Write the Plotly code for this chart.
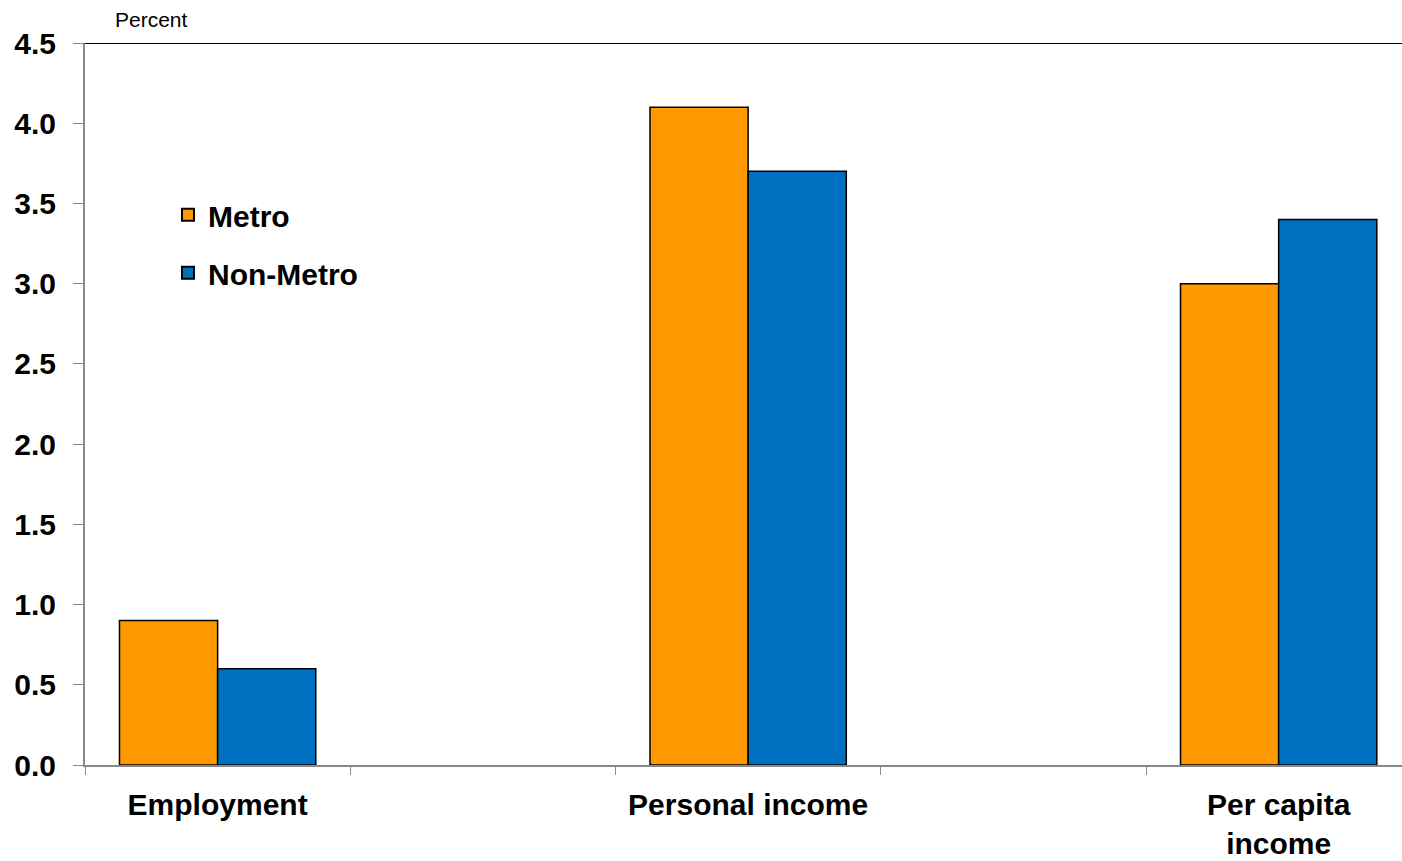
import plotly.graph_objects as go

categories = ["Employment", " ", "Personal income", "  ", "Per capita income"]
tick_labels = ["Employment", "", "Personal income", "", "Per capita<br>income"]
metro = [0.9, None, 4.1, None, 3.0]
non_metro = [0.6, None, 3.7, None, 3.4]
y_ticks = [0.0, 0.5, 1.0, 1.5, 2.0, 2.5, 3.0, 3.5, 4.0, 4.5]

FONT = "Liberation Sans, Arial, sans-serif"

fig = go.Figure()
fig.add_trace(go.Bar(x=categories, y=metro, name="Metro", legendgroup="a",
                     marker=dict(color="#FF9900", line=dict(color="#000000", width=1.5))))
fig.add_trace(go.Bar(x=categories, y=non_metro, name="Non-Metro", legendgroup="b",
                     marker=dict(color="#0070C0", line=dict(color="#000000", width=1.5))))

fig.update_layout(
    width=1402, height=861,
    margin=dict(l=85, r=0, t=43, b=96, autoexpand=False),
    plot_bgcolor="white", paper_bgcolor="white",
    barmode="group", bargap=0.26, bargroupgap=0,
    font=dict(family=FONT, color="#000000"),
    showlegend=True,
    legend=dict(x=0.063, y=0.798, xanchor="left", yanchor="top",
                font=dict(family=FONT, size=30, color="#000000", weight="bold"),
                tracegroupgap=16, traceorder="grouped",
                bgcolor="rgba(0,0,0,0)", itemsizing="constant", itemwidth=30),
    xaxis=dict(type="category", categoryorder="array", categoryarray=categories,
               range=[-0.5, 4.465], automargin=False,
               tickmode="array", tickvals=categories, ticktext=tick_labels,
               tickson="boundaries", ticks="outside", ticklen=8, tickcolor="#888888",
               showline=True, linecolor="#888888", linewidth=2,
               showgrid=False, zeroline=False,
               tickfont=dict(family=FONT, size=30, color="#000000", weight="bold"),
               ticklabelstandoff=12),
    yaxis=dict(range=[0, 4.5], tickmode="array", tickvals=y_ticks, automargin=False,
               tickformat=".1f", ticks="outside", ticklen=10, tickcolor="#888888",
               showline=True, linecolor="#888888", linewidth=2,
               showgrid=False, zeroline=False,
               tickfont=dict(family=FONT, size=30, color="#000000", weight="bold"),
               ticklabelstandoff=11),
)

fig.add_shape(type="line", xref="paper", yref="y", x0=0, x1=1, y0=4.5, y1=4.5,
              line=dict(color="#000000", width=2))

fig.add_annotation(text="Percent", xref="paper", yref="paper", x=0.0, y=1.0,
                   xshift=28, yshift=10, xanchor="left", yanchor="bottom", showarrow=False,
                   font=dict(family=FONT, size=21, color="#000000"))

fig.write_html(
    "out.html",
    config={"displayModeBar": False},
    post_script="document.body.style.margin='0';document.body.style.overflow='hidden';",
)
